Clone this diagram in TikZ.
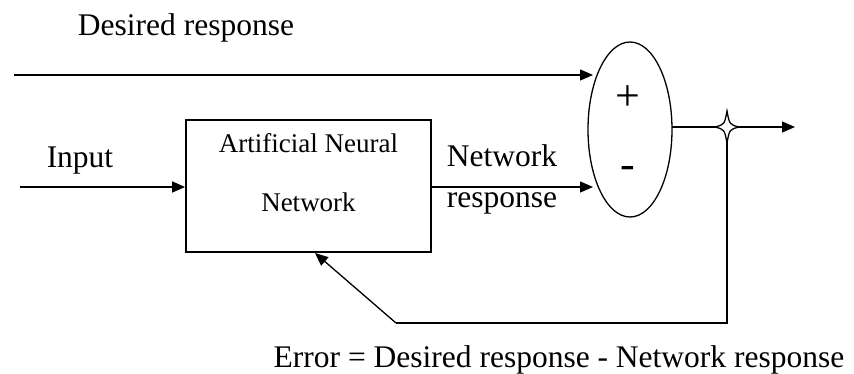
\documentclass[tikz,border=0pt]{standalone}
\usepackage{fontspec}
\setmainfont{Liberation Serif}
\usetikzlibrary{arrows.meta,shapes.geometric,calc}

\tikzset{
  label/.style={inner sep=0pt, anchor=base, font=\fontsize{31.5}{36}\selectfont},
  sign/.style={inner sep=0pt, anchor=center, font=\fontsize{44}{48}\selectfont},
  boxtext/.style={inner sep=0pt, anchor=base, font=\fontsize{27}{32}\selectfont},
  wire/.style={line width=1.3pt},
  sig/.style={wire, -{Triangle[length=13pt,width=11pt]}},
  block/.style={draw, line width=1.8pt, minimum width=245pt, minimum height=132pt, inner sep=0pt},
  summer/.style={draw, ellipse, line width=1.3pt, minimum width=84pt, minimum height=175pt, inner sep=0pt}
}

\begin{document}
\begin{tikzpicture}[x=1pt,y=-1pt]
  \useasboundingbox (0,0) rectangle (854,374);

  % blocks
  \node[block] (ann) at (308.5,186) {};
  \node[summer] (sum) at (630,129.5) {};

  % texts
  \node[label] (tdes) at (186,36) {Desired response};
  \node[label] (tin) at (80,168) {Input};
  \node[label] (tnet) at (502,167) {Network};
  \node[label] (tresp) at (502,208) {response};
  \node[boxtext] (tann1) at (308.5,153) {Artificial Neural};
  \node[boxtext] (tann2) at (308.5,212) {Network};
  \node[sign] (tplus) at (628,98) {+};
  \node[sign] (tminus) at (628,172) {-};
  \node[label] (terr) at (559,367) {Error = Desired response - Network response};

  % connector end points
  \coordinate (dstart) at (14,75);
  \coordinate (sumtop) at (593,75);
  \coordinate (instart) at (20,187);
  \coordinate (sumbot) at (593,187);
  \coordinate (sumout) at (672,127);
  \coordinate (junc) at (727,127);
  \coordinate (outend) at (795,127);
  \coordinate (fbdown) at (727,323);
  \coordinate (fbleft) at (396,323);
  \coordinate (fbtip) at (315,253);

  % signal paths
  \draw[sig] (dstart) -- (sumtop);
  \draw[sig] (instart) -- (instart -| ann.west);
  \draw[sig] (sumbot -| ann.east) -- (sumbot);
  \draw[sig] (sumout) -- (outend);
  \draw[wire] (junc) -- (fbdown) -- (fbleft);
  \draw[sig] (fbleft) -- (fbtip);

  % take-off point marker: four-pointed star
  \draw[line width=1.3pt, fill=white, line join=miter]
    ($(junc)+(0,-16)$) .. controls ($(junc)+(2.5,-2.5)$) .. ($(junc)+(12,0)$)
    .. controls ($(junc)+(2.5,2.5)$) .. ($(junc)+(0,16)$)
    .. controls ($(junc)+(-2.5,2.5)$) .. ($(junc)+(-12,0)$)
    .. controls ($(junc)+(-2.5,-2.5)$) .. cycle;
\end{tikzpicture}
\end{document}
